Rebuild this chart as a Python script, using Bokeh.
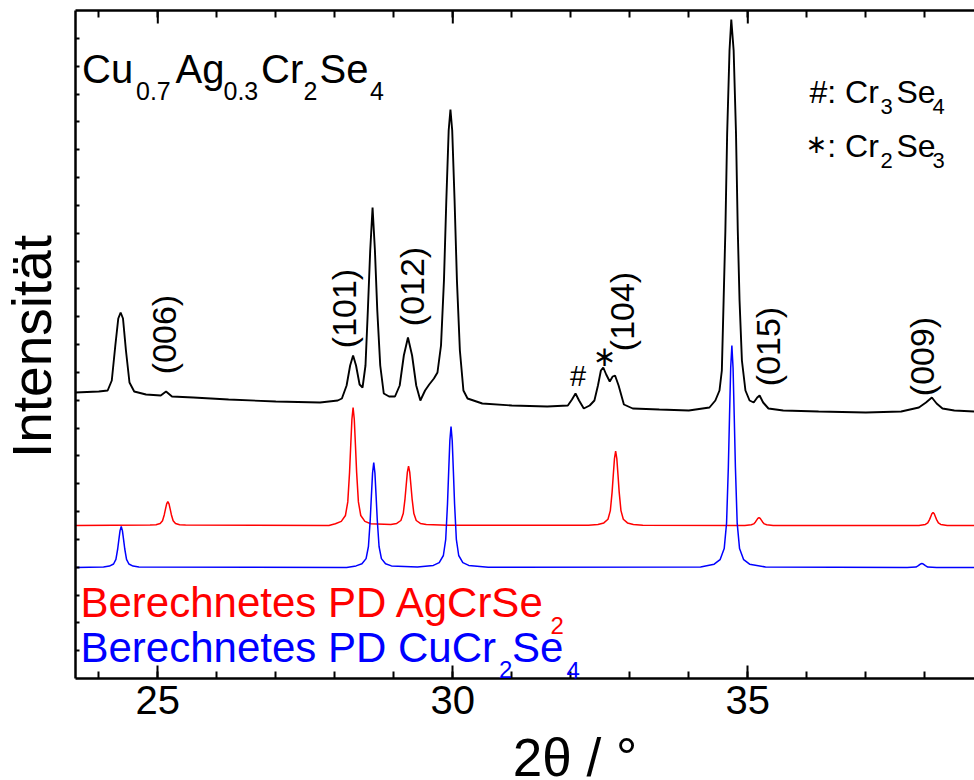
from bokeh.plotting import figure
from bokeh.models import Label, LinearAxis, FixedTicker
from bokeh.layouts import column, row
from bokeh.embed import file_html
from bokeh.resources import INLINE

# ---------------- data ----------------
# measured pattern Cu0.7Ag0.3Cr2Se4 (2theta in deg, intensity in a.u.)
tt_exp = [23.60, 24.00, 24.15, 24.22, 24.28, 24.33, 24.37, 24.41, 24.46, 24.52,
          24.60, 24.80, 25.05, 25.14, 25.24, 25.60, 26.20, 27.00, 27.75, 28.05,
          28.12, 28.20, 28.26, 28.31, 28.36, 28.42, 28.47, 28.52, 28.56, 28.60,
          28.64, 28.68, 28.72, 28.77, 28.83, 28.92, 29.02, 29.10, 29.17, 29.24,
          29.31, 29.38, 29.45, 29.53, 29.60, 29.68, 29.74, 29.80, 29.85, 29.89,
          29.93, 29.96, 29.99, 30.03, 30.07, 30.12, 30.18, 30.25, 30.50, 31.00,
          31.60, 31.95, 32.02, 32.08, 32.14, 32.22, 32.32, 32.40, 32.46, 32.51,
          32.55, 32.60, 32.66, 32.71, 32.75, 32.81, 32.90, 33.05, 33.50, 34.00,
          34.35, 34.45, 34.52, 34.56, 34.59, 34.62, 34.65, 34.69, 34.72, 34.76,
          34.80, 34.83, 34.86, 34.90, 34.96, 35.03, 35.10, 35.16, 35.20, 35.26,
          35.35, 35.60, 36.20, 37.00, 37.60, 37.90, 38.02, 38.12, 38.20, 38.30,
          38.50, 38.85]
int_exp = [286, 287, 288, 298, 333, 360, 366, 360, 328, 296,
           287, 284, 283, 287, 282, 281, 279, 277, 276, 278,
           280, 293, 313, 323, 313, 294, 291, 313, 368, 428,
           471, 428, 368, 313, 285, 282, 282, 293, 323, 341,
           323, 293, 278, 288, 294, 300, 306, 333, 398, 478,
           548, 569, 548, 478, 398, 328, 288, 280, 275, 273,
           272, 273, 279, 285, 278, 270, 273, 278, 293, 308,
           311, 304, 297, 302, 303, 293, 274, 270, 269, 268,
           271, 278, 288, 308, 378, 448, 545, 628, 659, 628,
           545, 448, 378, 318, 288, 278, 276, 281, 283, 276,
           270, 268, 267, 266, 267, 271, 276, 281, 275, 270,
           268, 267]

# calculated pattern AgCrSe2 (red)
tt_ag = [23.60, 24.87, 24.97, 25.04, 25.08, 25.11, 25.13, 25.15, 25.17, 25.19,
         25.21, 25.23, 25.26, 25.30, 25.37, 25.47, 27.90, 28.01, 28.11, 28.18,
         28.22, 28.25, 28.27, 28.29, 28.31, 28.33, 28.35, 28.37, 28.40, 28.44,
         28.51, 28.61, 28.95, 29.05, 29.12, 29.16, 29.19, 29.21, 29.23, 29.25,
         29.27, 29.29, 29.31, 29.34, 29.38, 29.45, 29.55, 29.90, 32.30, 32.46,
         32.56, 32.63, 32.67, 32.70, 32.72, 32.74, 32.76, 32.78, 32.80, 32.82,
         32.85, 32.89, 32.96, 33.06, 33.22, 34.95, 35.06, 35.10, 35.13, 35.15,
         35.17, 35.19, 35.21, 35.23, 35.25, 35.28, 35.32, 35.43, 37.90, 38.01,
         38.05, 38.08, 38.10, 38.12, 38.14, 38.16, 38.18, 38.20, 38.23, 38.27,
         38.38, 38.90]
int_ag = [153.0, 153.4, 153.8, 155.0, 157.8, 163.8, 169.3, 174.6, 177.0, 174.6,
          169.3, 163.8, 157.8, 155.0, 153.8, 153.4, 153.0, 154.8, 157.1, 163.0,
          176.6, 206.1, 233.2, 259.2, 271.0, 259.2, 233.2, 206.1, 176.6, 163.0,
          157.1, 154.8, 153.9, 155.1, 158.0, 164.9, 179.7, 193.3, 206.4, 212.3,
          206.4, 193.3, 179.7, 164.9, 158.0, 155.1, 153.9, 153.2, 153.2, 154.1,
          155.6, 159.3, 167.9, 186.4, 203.5, 219.9, 227.3, 219.9, 203.5, 186.4,
          167.9, 159.3, 155.6, 154.1, 153.2, 153.1, 153.7, 154.6, 156.6, 158.4,
          160.2, 161.0, 160.2, 158.4, 156.6, 154.6, 153.7, 153.1, 153.1, 154.1,
          155.6, 158.9, 161.8, 164.7, 166.0, 164.7, 161.8, 158.9, 155.6, 154.1,
          153.1, 153.0]

# calculated pattern CuCr2Se4 (blue)
tt_cu = [23.60, 24.08, 24.18, 24.25, 24.29, 24.32, 24.34, 24.36, 24.38, 24.40,
         24.42, 24.44, 24.47, 24.51, 24.58, 24.68, 28.20, 28.36, 28.46, 28.53,
         28.57, 28.60, 28.62, 28.64, 28.66, 28.68, 28.70, 28.72, 28.75, 28.79,
         28.86, 28.96, 29.40, 29.67, 29.77, 29.84, 29.88, 29.91, 29.93, 29.95,
         29.97, 29.99, 30.01, 30.03, 30.06, 30.10, 30.17, 30.27, 30.60, 34.20,
         34.43, 34.53, 34.60, 34.64, 34.67, 34.69, 34.71, 34.73, 34.75, 34.77,
         34.79, 34.82, 34.86, 34.93, 35.03, 35.30, 37.70, 37.85, 37.89, 37.93,
         37.95, 37.97, 38.01, 38.05, 38.20, 38.90]
int_cu = [111.0, 111.6, 112.4, 114.5, 119.2, 129.5, 138.9, 147.9, 152.0, 147.9,
          138.9, 129.5, 119.2, 114.5, 112.4, 111.6, 111.0, 112.6, 114.7, 119.9,
          132.0, 158.3, 182.4, 205.5, 216.0, 205.5, 182.4, 158.3, 132.0, 119.9,
          114.7, 112.6, 111.5, 113.1, 115.9, 123.0, 139.2, 174.5, 206.9, 237.9,
          252.0, 237.9, 206.9, 174.5, 139.2, 123.0, 115.9, 113.1, 111.3, 111.5,
          114.3, 118.8, 129.9, 155.4, 210.9, 262.0, 310.8, 333.0, 310.8, 262.0,
          210.9, 155.4, 129.9, 118.8, 114.3, 111.5, 111.0, 111.4, 112.8, 114.6,
          115.0, 114.6, 112.8, 111.4, 111.0, 111.0]

x_major_ticks = [25, 30, 35]
x_minor_ticks = [24, 25, 26, 27, 28, 29, 30, 31, 32, 33, 34, 35, 36, 37, 38]
x_tick_labels = {25: "25", 30: "30", 35: "35"}
y_tick_count = 24
y_top = 668

FONT = "Liberation Sans"
W = 974
H_MAIN = 731
H_XLAB = 49
W_STRIP = 72          # left strip holding the y title
W_MAIN = W - W_STRIP  # main figure width

# ---------------- main figure ----------------
p = figure(width=W_MAIN, height=H_MAIN, x_range=(23.605, 23.605 + 899 / 59.0),
           y_range=(0, y_top),
           output_backend="svg", toolbar_location=None,
           min_border_left=3, min_border_right=0, min_border_top=10,
           min_border_bottom=53, background_fill_color="white",
           border_fill_color="white", outline_line_color=None)
p.xgrid.grid_line_color = None
p.ygrid.grid_line_color = None

xt = FixedTicker(ticks=x_major_ticks, minor_ticks=x_minor_ticks)
xt_top = FixedTicker(ticks=[], minor_ticks=x_minor_ticks)
yt = FixedTicker(ticks=[], minor_ticks=[y_top * i / y_tick_count for i in range(1, y_tick_count)])


def style_axis(ax):
    ax.axis_line_width = 2.5
    ax.axis_line_color = "black"
    ax.major_tick_line_width = 2
    ax.minor_tick_line_width = 2
    ax.major_tick_line_color = "black"
    ax.minor_tick_line_color = "black"
    ax.major_tick_out = 0
    ax.minor_tick_out = 0


bx = p.xaxis[0]
bx.ticker = xt
bx.major_label_overrides = x_tick_labels
style_axis(bx)
bx.major_tick_in = 13
bx.minor_tick_in = 7
bx.major_label_text_font = FONT
bx.major_label_text_font_size = "40px"
bx.major_label_text_color = "black"
bx.major_label_standoff = 7

tx = LinearAxis(ticker=xt_top)
style_axis(tx)
tx.minor_tick_in = 7
tx.major_label_standoff = 0
p.add_layout(tx, "above")
# longer ticks at the labelled positions on the top axis
p.segment(x0=x_major_ticks, y0=[y_top] * len(x_major_ticks),
          x1=x_major_ticks, y1=[y_top - 13] * len(x_major_ticks),
          line_color="black", line_width=2)

ly = p.yaxis[0]
ly.ticker = yt
style_axis(ly)
ly.minor_tick_in = 4
ly.major_label_standoff = 0

# ---------------- curves ----------------
p.line(tt_exp, int_exp, line_color="black", line_width=1.9)
p.line(tt_ag, int_ag, line_color="#ff0000", line_width=1.5)
p.line(tt_cu, int_cu, line_color="#0000ff", line_width=1.5)


# ---------------- texts (page pixel positions) ----------------
def txt(fig, text, ix, iy, size, color="black", angle=0, align="left", font=FONT,
        dx=0, dy=0):
    fig.add_layout(Label(x=ix - dx, y=iy - dy, x_units="canvas", y_units="canvas",
                         text=text, text_font=font, text_font_size=f"{size}px",
                         text_color=color, angle=angle, angle_units="deg",
                         text_align=align, text_baseline="middle"))


def mid(baseline, size):
    return baseline - 0.346 * size


def tp(text, ix, iy, size, **kw):
    txt(p, text, ix, iy, size, dx=W_STRIP, **kw)


# title formula
tp("Cu", 81.5, mid(82, 40), 40)
tp("0.7", 135.5, mid(99, 25), 25)
tp("Ag", 175, mid(82, 40), 40)
tp("0.3", 223, mid(99, 25), 25)
tp("Cr", 260.5, mid(82, 40), 40)
tp("2", 303, mid(99, 25), 25)
tp("Se", 319, mid(82, 40), 40)
tp("4", 369.5, mid(99, 25), 25)

# impurity legend
tp("#: Cr", 809, mid(103, 32), 32)
tp("3", 880, mid(114, 22), 22)
tp("Se", 896, mid(103, 32), 32)
tp("4", 932, mid(114, 22), 22)
tp("\u2217", 815.8, 143.5, 26, align="center", font="DejaVu Sans")
tp(": Cr", 826.8, mid(157, 32), 32)
tp("2", 880, mid(168, 22), 22)
tp("Se", 896, mid(157, 32), 32)
tp("3", 932, mid(168, 22), 22)

# peak markers
tp("#", 577.5, 375, 29, align="center")
tp("\u2217", 604, 356, 28, align="center", font="DejaVu Sans")

# hkl labels
for lab, cx, cy in [("(006)", 166.5, 334), ("(101)", 346.5, 308), ("(012)", 414, 286),
                    ("(104)", 624, 311), ("(015)", 770, 346), ("(009)", 924.5, 356)]:
    tp(lab, cx - 3, cy, 34, angle=90, align="center")

# calculated pattern legend
tp("Berechnetes PD AgCrSe", 80, mid(617, 42), 42, color="#ff0000")
tp("2", 550, mid(633, 24), 24, color="#ff0000")
tp("Berechnetes PD CuCr", 80, mid(662, 42), 42, color="#0000ff")
tp("2", 498.5, mid(677, 24), 24, color="#0000ff")
tp("Se", 511.5, mid(662, 42), 42, color="#0000ff")
tp("4", 566, mid(678, 24), 24, color="#0000ff")


def strip(width, height):
    f = figure(width=width, height=height, x_range=(0, 1), y_range=(0, 1),
               output_backend="svg", toolbar_location=None,
               x_axis_location=None, y_axis_location=None,
               min_border_left=0, min_border_right=0, min_border_top=0,
               min_border_bottom=0, background_fill_color="white",
               border_fill_color="white", outline_line_color=None)
    f.xgrid.grid_line_color = None
    f.ygrid.grid_line_color = None
    return f


# ---------------- y axis title strip ----------------
ps = strip(W_STRIP, H_MAIN)
txt(ps, "Intensität", 31.5, 346, 55, angle=90, align="center")

# ---------------- x axis title strip ----------------
p2 = strip(W, H_XLAB)
txt(p2, "2\u03b8 / \u00b0", 574.5, mid(775, 53), 53, align="center", dy=H_MAIN)

layout = column(row(ps, p, spacing=0), p2, spacing=0)
open("out.html", "w").write(file_html(layout, INLINE))
